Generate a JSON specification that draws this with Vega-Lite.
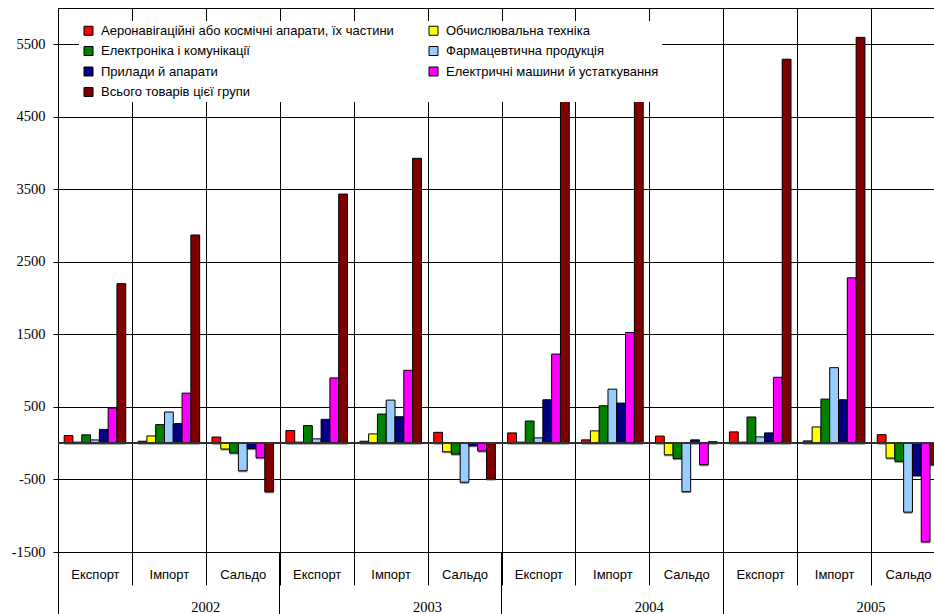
{
  "$schema": "https://vega.github.io/schema/vega-lite/v6.json",
  "autosize": {"type": "none"},
  "padding": {"left": 58, "top": 8, "right": 0, "bottom": 62},
  "width": 887,
  "height": 544,
  "background": "white",
  "config": {
    "view": {"stroke": "black", "strokeWidth": 1},
    "axis": {"labelColor": "black", "tickColor": "black", "domainColor": "black", "gridColor": "black", "gridOpacity": 1}
  },
  "data": {
    "values": [
      {"key": "2002|Експорт", "series": "Аеронавігаційні або космічні апарати, їх частини", "value": 105},
      {"key": "2002|Експорт", "series": "Обчислювальна техніка", "value": 15},
      {"key": "2002|Експорт", "series": "Електроніка і комунікації", "value": 115},
      {"key": "2002|Експорт", "series": "Фармацевтична продукція", "value": 45},
      {"key": "2002|Експорт", "series": "Прилади й апарати", "value": 190},
      {"key": "2002|Експорт", "series": "Електричні машини й устаткування", "value": 485},
      {"key": "2002|Експорт", "series": "Всього товарів цієї групи", "value": 2200},
      {"key": "2002|Імпорт", "series": "Аеронавігаційні або космічні апарати, їх частини", "value": 27},
      {"key": "2002|Імпорт", "series": "Обчислювальна техніка", "value": 100},
      {"key": "2002|Імпорт", "series": "Електроніка і комунікації", "value": 256},
      {"key": "2002|Імпорт", "series": "Фармацевтична продукція", "value": 430},
      {"key": "2002|Імпорт", "series": "Прилади й апарати", "value": 270},
      {"key": "2002|Імпорт", "series": "Електричні машини й устаткування", "value": 690},
      {"key": "2002|Імпорт", "series": "Всього товарів цієї групи", "value": 2870},
      {"key": "2002|Сальдо", "series": "Аеронавігаційні або космічні апарати, їх частини", "value": 85},
      {"key": "2002|Сальдо", "series": "Обчислювальна техніка", "value": -80},
      {"key": "2002|Сальдо", "series": "Електроніка і комунікації", "value": -135},
      {"key": "2002|Сальдо", "series": "Фармацевтична продукція", "value": -380},
      {"key": "2002|Сальдо", "series": "Прилади й апарати", "value": -75},
      {"key": "2002|Сальдо", "series": "Електричні машини й устаткування", "value": -200},
      {"key": "2002|Сальдо", "series": "Всього товарів цієї групи", "value": -670},
      {"key": "2003|Експорт", "series": "Аеронавігаційні або космічні апарати, їх частини", "value": 174},
      {"key": "2003|Експорт", "series": "Обчислювальна техніка", "value": 15},
      {"key": "2003|Експорт", "series": "Електроніка і комунікації", "value": 243},
      {"key": "2003|Експорт", "series": "Фармацевтична продукція", "value": 60},
      {"key": "2003|Експорт", "series": "Прилади й апарати", "value": 329},
      {"key": "2003|Експорт", "series": "Електричні машини й устаткування", "value": 900},
      {"key": "2003|Експорт", "series": "Всього товарів цієї групи", "value": 3435},
      {"key": "2003|Імпорт", "series": "Аеронавігаційні або космічні апарати, їх частини", "value": 27},
      {"key": "2003|Імпорт", "series": "Обчислювальна техніка", "value": 128},
      {"key": "2003|Імпорт", "series": "Електроніка і комунікації", "value": 402},
      {"key": "2003|Імпорт", "series": "Фармацевтична продукція", "value": 594},
      {"key": "2003|Імпорт", "series": "Прилади й апарати", "value": 365},
      {"key": "2003|Імпорт", "series": "Електричні машини й устаткування", "value": 1005},
      {"key": "2003|Імпорт", "series": "Всього товарів цієї групи", "value": 3928},
      {"key": "2003|Сальдо", "series": "Аеронавігаційні або космічні апарати, їх частини", "value": 150},
      {"key": "2003|Сальдо", "series": "Обчислювальна техніка", "value": -118},
      {"key": "2003|Сальдо", "series": "Електроніка і комунікації", "value": -150},
      {"key": "2003|Сальдо", "series": "Фармацевтична продукція", "value": -538},
      {"key": "2003|Сальдо", "series": "Прилади й апарати", "value": -36},
      {"key": "2003|Сальдо", "series": "Електричні машини й устаткування", "value": -108},
      {"key": "2003|Сальдо", "series": "Всього товарів цієї групи", "value": -495},
      {"key": "2004|Експорт", "series": "Аеронавігаційні або космічні апарати, їх частини", "value": 142},
      {"key": "2004|Експорт", "series": "Обчислювальна техніка", "value": 15},
      {"key": "2004|Експорт", "series": "Електроніка і комунікації", "value": 306},
      {"key": "2004|Експорт", "series": "Фармацевтична продукція", "value": 74},
      {"key": "2004|Експорт", "series": "Прилади й апарати", "value": 599},
      {"key": "2004|Експорт", "series": "Електричні машини й устаткування", "value": 1229},
      {"key": "2004|Експорт", "series": "Всього товарів цієї групи", "value": 4746},
      {"key": "2004|Імпорт", "series": "Аеронавігаційні або космічні апарати, їх частини", "value": 46},
      {"key": "2004|Імпорт", "series": "Обчислювальна техніка", "value": 170},
      {"key": "2004|Імпорт", "series": "Електроніка і комунікації", "value": 516},
      {"key": "2004|Імпорт", "series": "Фармацевтична продукція", "value": 745},
      {"key": "2004|Імпорт", "series": "Прилади й апарати", "value": 553},
      {"key": "2004|Імпорт", "series": "Електричні машини й устаткування", "value": 1526},
      {"key": "2004|Імпорт", "series": "Всього товарів цієї групи", "value": 4727},
      {"key": "2004|Сальдо", "series": "Аеронавігаційні або космічні апарати, їх частини", "value": 98},
      {"key": "2004|Сальдо", "series": "Обчислювальна техніка", "value": -160},
      {"key": "2004|Сальдо", "series": "Електроніка і комунікації", "value": -212},
      {"key": "2004|Сальдо", "series": "Фармацевтична продукція", "value": -668},
      {"key": "2004|Сальдо", "series": "Прилади й апарати", "value": 46},
      {"key": "2004|Сальдо", "series": "Електричні машини й устаткування", "value": -297},
      {"key": "2004|Сальдо", "series": "Всього товарів цієї групи", "value": 21},
      {"key": "2005|Експорт", "series": "Аеронавігаційні або космічні апарати, їх частини", "value": 156},
      {"key": "2005|Експорт", "series": "Обчислювальна техніка", "value": 15},
      {"key": "2005|Експорт", "series": "Електроніка і комунікації", "value": 361},
      {"key": "2005|Експорт", "series": "Фармацевтична продукція", "value": 87},
      {"key": "2005|Експорт", "series": "Прилади й апарати", "value": 142},
      {"key": "2005|Експорт", "series": "Електричні машини й устаткування", "value": 909},
      {"key": "2005|Експорт", "series": "Всього товарів цієї групи", "value": 5294},
      {"key": "2005|Імпорт", "series": "Аеронавігаційні або космічні апарати, їх частини", "value": 32},
      {"key": "2005|Імпорт", "series": "Обчислювальна техніка", "value": 224},
      {"key": "2005|Імпорт", "series": "Електроніка і комунікації", "value": 608},
      {"key": "2005|Імпорт", "series": "Фармацевтична продукція", "value": 1041},
      {"key": "2005|Імпорт", "series": "Прилади й апарати", "value": 599},
      {"key": "2005|Імпорт", "series": "Електричні машини й устаткування", "value": 2280},
      {"key": "2005|Імпорт", "series": "Всього товарів цієї групи", "value": 5595},
      {"key": "2005|Сальдо", "series": "Аеронавігаційні або космічні апарати, їх частини", "value": 118},
      {"key": "2005|Сальдо", "series": "Обчислювальна техніка", "value": -205},
      {"key": "2005|Сальдо", "series": "Електроніка і комунікації", "value": -250},
      {"key": "2005|Сальдо", "series": "Фармацевтична продукція", "value": -950},
      {"key": "2005|Сальдо", "series": "Прилади й апарати", "value": -445},
      {"key": "2005|Сальдо", "series": "Електричні машини й устаткування", "value": -1360},
      {"key": "2005|Сальдо", "series": "Всього товарів цієї групи", "value": -298}
    ]
  },
  "layer": [
    {
      "mark": {"type": "bar", "fill": "#8c8c8c", "xOffset": 1.5, "yOffset": 1.5},
      "encoding": {
        "x": {
          "field": "key", "type": "nominal", "sort": null,
          "scale": {"paddingInner": 0, "paddingOuter": 0},
          "axis": {
            "orient": "bottom",
            "values": ["2002|Експорт", "2003|Експорт", "2004|Експорт", "2005|Експорт"],
            "bandPosition": 0,
            "labelOffset": 110.9,
            "labelExpr": "split(datum.value, '|')[0]",
            "labelFont": "Liberation Serif",
            "labelFontSize": 14.5,
            "labelAngle": 0,
            "labelPadding": -14,
            "tickSize": 62,
            "domain": false,
            "grid": false,
            "title": null
          }
        },
        "xOffset": {"field": "series", "type": "nominal", "sort": null, "scale": {"paddingInner": 0, "paddingOuter": 0.7}},
        "y": {"field": "value", "type": "quantitative"}
      }
    },
    {
      "mark": {"type": "bar", "stroke": "black", "strokeWidth": 1},
      "encoding": {
        "x": {
          "field": "key", "type": "nominal", "sort": null,
          "axis": {
            "orient": "bottom",
            "tickBand": "extent",
            "labelExpr": "split(datum.value, '|')[1]",
            "labelFont": "Liberation Sans",
            "labelFontSize": 13,
            "labelAngle": 0,
            "labelPadding": -17,
            "tickSize": 33,
            "domain": false,
            "grid": true,
            "title": null
          }
        },
        "xOffset": {"field": "series", "type": "nominal", "sort": null},
        "y": {
          "field": "value", "type": "quantitative",
          "scale": {"domain": [-1500, 6000], "nice": false, "zero": false},
          "axis": {
            "values": [-1500, -500, 500, 1500, 2500, 3500, 4500, 5500],
            "labelExpr": "'' + datum.value",
            "labelFont": "Liberation Serif",
            "labelFontSize": 14.5,
            "labelPadding": 8,
            "tickSize": 5,
            "grid": true,
            "title": null
          }
        },
        "color": {
          "field": "series", "type": "nominal", "sort": null,
          "scale": {
            "domain": [
              "Аеронавігаційні або космічні апарати, їх частини",
              "Обчислювальна техніка",
              "Електроніка і комунікації",
              "Фармацевтична продукція",
              "Прилади й апарати",
              "Електричні машини й устаткування",
              "Всього товарів цієї групи"
            ],
            "range": ["#FF0000", "#FFFF00", "#008000", "#99CCFF", "#000080", "#FF00FF", "#800000"]
          },
          "legend": {
            "orient": "none",
            "legendX": 21,
            "legendY": 13,
            "direction": "horizontal",
            "columns": 2,
            "gridAlign": "all",
            "columnPadding": 33,
            "rowPadding": 6.5,
            "padding": 3,
            "fillColor": "white",
            "title": null,
            "symbolType": "square",
            "symbolSize": 81,
            "symbolStrokeColor": "black",
            "symbolStrokeWidth": 1,
            "symbolOpacity": 1,
            "labelFont": "Liberation Sans",
            "labelFontSize": 13,
            "labelColor": "black",
            "labelOffset": 6,
            "labelLimit": 400
          }
        }
      }
    },
    {
      "mark": {"type": "rule", "color": "#333333", "strokeWidth": 1.5},
      "encoding": {"y": {"datum": 0}}
    }
  ],
  "resolve": {"axis": {"x": "independent"}}
}
